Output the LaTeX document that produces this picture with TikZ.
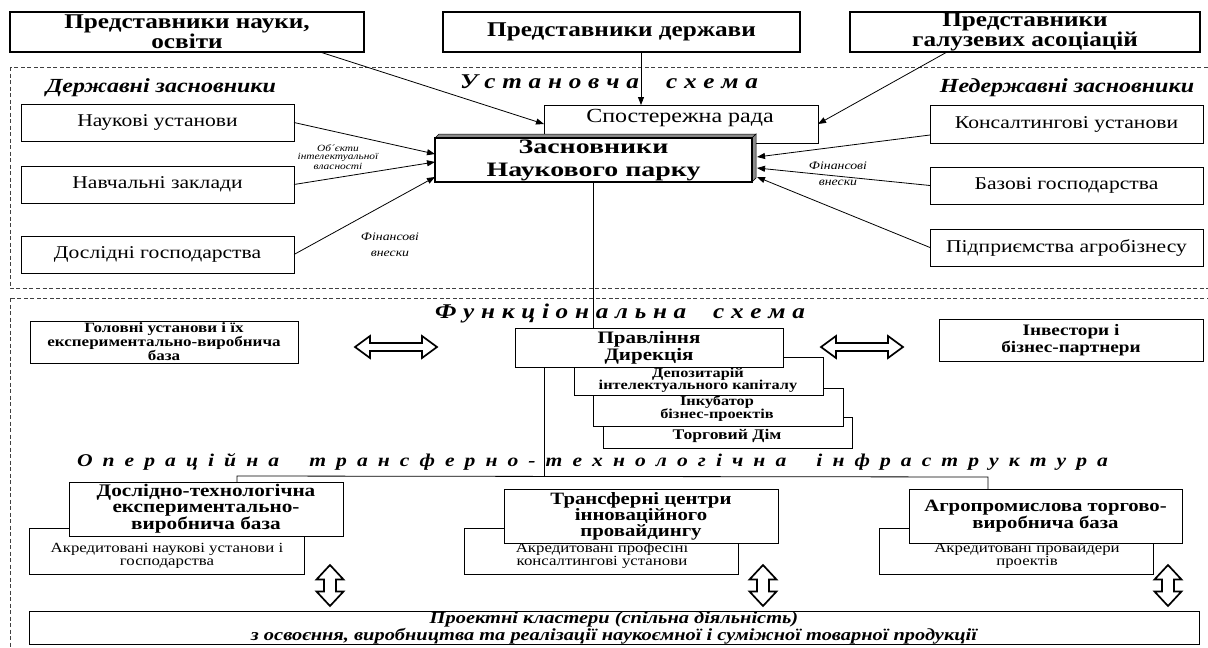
\documentclass[tikz,border=0pt]{standalone}
\usepackage{fontspec}
\setmainfont{Liberation Serif}[FakeStretch=1.2]
\newfontfamily\widebold{Liberation Serif}[FakeStretch=1.36]
\usetikzlibrary{arrows.meta,calc}
\newcommand\fsz[2]{\fontsize{#1}{#2}\selectfont}
\newcommand\spreadtxt[2]{\makebox[#1][s]{#2}}
\begin{document}
\begin{tikzpicture}[x=1pt,y=-1pt,
  tbox/.style={draw, line width=2.2pt, fill=white, inner sep=0pt, outer sep=0pt, align=center, font=\bfseries\fsz{21}{17}},
  rbox/.style={draw, line width=0.8pt, fill=white, inner sep=0pt, outer sep=0pt, align=center},
  lbl/.style={inner sep=0pt, outer sep=0pt, align=center},
  frame/.style={draw=black!75, line width=0.7pt, dash pattern=on 4pt off 2.5pt},
  conn/.style={draw, line width=0.8pt, -{Triangle[length=8pt,width=6pt]}},
  plain/.style={draw, line width=0.8pt},
  harrow/.pic={\draw[line width=1.7pt, fill=white, line join=miter] (-41,0) -- (-26,-11) -- (-26,-4) -- (26,-4) -- (26,-11) -- (41,0) -- (26,11) -- (26,4) -- (-26,4) -- (-26,11) -- cycle;},
  varrow/.pic={\draw[line width=1.7pt, fill=white, line join=miter] (0,-20.5) -- (13.5,-6) -- (6,-6) -- (6,6) -- (13.5,6) -- (0,20.5) -- (-13.5,6) -- (-6,6) -- (-6,-6) -- (-13.5,-6) -- cycle;}
]
\useasboundingbox (0,0) rectangle (1208,648);

% dashed frames
\draw[frame] (10,67) rectangle (1210,288);
\draw[frame] (10,298) rectangle (1210,670);

% top boxes
\node[tbox, minimum width=354pt, minimum height=40pt] (sci) at (187,32) {Представники науки,\\освіти};
\node[tbox, minimum width=357pt, minimum height=40pt] (gov) at (621.5,32) {Представники держави};
\node[tbox, minimum width=350pt, minimum height=40pt] (assoc) at (1025,32) {Представники\\галузевих асоціацій};

% headings
\node[lbl, font=\bfseries\itshape\fsz{20}{20}] (hdl) at (161,88) {Державні засновники};
\node[lbl, font=\bfseries\itshape\fsz{20}{20}] (hdr) at (1067,88) {Недержавні засновники};
\node[lbl, font=\bfseries\itshape\fsz{21}{20}] (ust) at (609,82) {\spreadtxt{298pt}{У с т а н о в ч а \ \ \ с х е м а}};

% left boxes
\node[rbox, minimum width=273pt, minimum height=37pt, font=\fsz{18}{18}] (nauk) at (157.5,122.5) {Наукові установи};
\node[rbox, minimum width=273pt, minimum height=37pt, font=\fsz{18}{18}] (navch) at (157.5,184.5) {Навчальні заклади};
\node[rbox, minimum width=273pt, minimum height=37pt, font=\fsz{18}{18}] (dosl) at (157.5,254.5) {Дослідні господарства};

% right boxes
\node[rbox, minimum width=273pt, minimum height=38pt, font=\fsz{18}{18}] (kons) at (1066.5,124) {Консалтингові установи};
\node[rbox, minimum width=273pt, minimum height=37pt, font=\fsz{18}{18}] (baz) at (1066.5,185.5) {Базові господарства};
\node[rbox, minimum width=273pt, minimum height=37pt, font=\fsz{18}{18}] (pidpr) at (1066.5,247.5) {Підприємства агробізнесу};

% supervisory board
\node[rbox, minimum width=274pt, minimum height=38pt] (rada) at (681,124) {};
\node[lbl, font=\fsz{20}{20}] (radat) at (680,118) {Спостережна рада};

% founders
\node[rbox, line width=2.4pt, minimum width=317pt, minimum height=44pt, font=\widebold\bfseries\fsz{20.5}{23}] (zasn) at (593.5,160) {Засновники\\Наукового парку};
\filldraw[fill=black!45, draw=black, line width=0.5pt] (zasn.north west) -- ([shift={(4pt,4pt)}]zasn.north west) -- ([shift={(4pt,4pt)}]zasn.north east) -- (zasn.north east) -- cycle;
\filldraw[fill=black!45, draw=black, line width=0.5pt] (zasn.north east) -- ([shift={(4pt,4pt)}]zasn.north east) -- ([shift={(4pt,4pt)}]zasn.south east) -- (zasn.south east) -- cycle;
\draw[line width=2.4pt] (zasn.south west) rectangle (zasn.north east);

% arrows to supervisory board
\draw[conn] ([xshift=133pt]sci.south) -- (rada.west);
\draw[conn] ([xshift=19.5pt]gov.south) -- ([xshift=-40pt]rada.north);
\draw[conn] ([xshift=-78pt]assoc.south) -- (rada.east);

% arrows to founders
\draw[conn] (nauk.east) -- ([yshift=6pt]zasn.west);
\draw[conn] (navch.east) -- ([yshift=-2pt]zasn.west);
\draw[conn] (dosl.east) -- ([yshift=-17pt]zasn.west);
\draw[conn] ([yshift=-11pt]kons.west) -- ([shift={(5pt,3pt)}]zasn.east);
\draw[conn] (baz.west) -- ([shift={(5pt,-8pt)}]zasn.east);
\draw[conn] (pidpr.west) -- ([shift={(5pt,-17pt)}]zasn.east);

% arrow labels
\node[lbl, font=\itshape\fsz{9.5}{8}] (obj) at (338,157) {Об´єкти\\інтелектуальної\\власності};
\node[lbl, font=\itshape\fsz{11.5}{16}] (finl) at (390,245) {Фінансові\\внески};
\node[lbl, font=\itshape\fsz{11.5}{16}] (finr) at (838,174) {Фінансові\\внески};

% functional scheme
\node[lbl, font=\bfseries\itshape\fsz{21}{20}] (func) at (620,313) {\spreadtxt{370pt}{Ф у н к ц і о н а л ь н а \ \ \ с х е м а}};

\node[rbox, minimum width=268pt, minimum height=42pt, font=\bfseries\fsz{14.2}{14}] (golov) at (164,342) {Головні установи і їх\\експериментально-виробнича\\база};
\node[rbox, minimum width=264pt, minimum height=42pt, font=\bfseries\fsz{16}{16.5}] (inv) at (1071,340) {Інвестори і\\бізнес-партнери};

% stacked management boxes
\node[rbox, minimum width=249pt, minimum height=31pt] (torg) at (727.5,432.5) {};
\node[lbl, font=\bfseries\fsz{14.7}{14}] (torgt) at (727,436) {Торговий Дім};
\node[rbox, minimum width=250pt, minimum height=38pt] (inkub) at (718,407) {};
\node[lbl, font=\bfseries\fsz{13.6}{13}] (inkubt) at (717,408.5) {Інкубатор\\бізнес-проектів};
\node[rbox, minimum width=249pt, minimum height=38pt] (depo) at (698.5,376) {};
\node[lbl, font=\bfseries\fsz{13.6}{12.5}] (depot) at (698,380) {Депозитарій\\інтелектуального капіталу};
\node[rbox, minimum width=268pt, minimum height=39pt, font=\bfseries\fsz{17.5}{15.5}] (prav) at (649,347.5) {Правління\\Дирекція};

% horizontal double arrows
\pic (dal) at (396,347) {harrow};
\pic (dar) at (862,347) {harrow};

% operational infrastructure
\node[lbl, font=\bfseries\itshape\fsz{18}{18}] (oper) at (592.5,462) {\spreadtxt{1031pt}{О п е р а ц і й н а \ \ т р а н с ф е р н о - т е х н о л о г і ч н а \ \ і н ф р а с т р у к т у р а}};
\coordinate (opl) at (237,476);
\coordinate (opr) at (988,477);

% bottom boxes (back layer first)
\node[rbox, minimum width=275pt, minimum height=46pt] (akr1) at (166.5,551) {};
\node[lbl, font=\fsz{14}{13}] (akr1t) at (167,555.5) {Акредитовані наукові установи і\\господарства};
\node[rbox, minimum width=274pt, minimum height=46pt] (akr2) at (601,551) {};
\node[lbl, font=\fsz{14}{13}] (akr2t) at (602,555.5) {Акредитовані професіні\\консалтингові установи};
\node[rbox, minimum width=274pt, minimum height=46pt] (akr3) at (1016,551) {};
\node[lbl, font=\fsz{14}{13}] (akr3t) at (1027,555.5) {Акредитовані провайдери\\проектів};

\node[rbox, minimum width=274pt, minimum height=54pt, font=\bfseries\fsz{17.7}{15.5}] (dtb) at (206,509) {Дослідно-технологічна\\експериментально-\\виробнича база};
\node[rbox, minimum width=274pt, minimum height=54pt, font=\bfseries\fsz{17.3}{16}] (trc) at (641,516) {Трансферні центри\\інноваційного\\провайдингу};
\node[rbox, minimum width=273pt, minimum height=54pt, font=\bfseries\fsz{17.3}{14.5}] (agro) at (1045.5,516) {Агропромислова торгово-\\виробнича база};

% frame of the infrastructure
\draw[plain] (opl |- dtb.north) -- (opl) -- (opr) -- (opr |- agro.north);

% connectors
\draw[plain] (zasn.south) -- (zasn.south |- prav.north);
\coordinate (pl) at ([xshift=-105pt]prav.south);
\draw[plain] (pl) -- (pl |- opl);

% vertical double arrows
\pic (v1) at (330,585.5) {varrow};
\pic (v2) at (763,585.5) {varrow};
\pic (v3) at (1168,585.5) {varrow};

% project clusters
\node[rbox, minimum width=1170pt, minimum height=30pt, font=\bfseries\itshape\fsz{17}{15}] (proj) at (614,628) {Проектні кластери (спільна діяльність)\\з освоєння, виробництва та реалізації наукоємної і суміжної товарної продукції};
\end{tikzpicture}
\end{document}
